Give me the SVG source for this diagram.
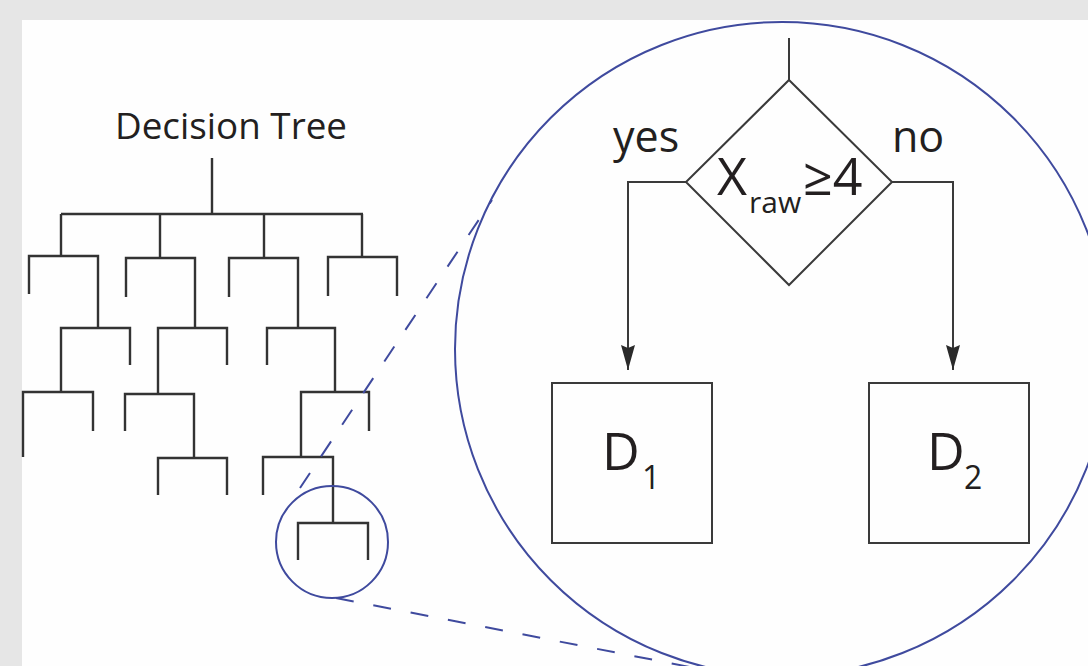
<svg xmlns="http://www.w3.org/2000/svg" width="1088" height="666" viewBox="0 0 1088 666">
<style>
.tree{fill:none;stroke:#333;stroke-width:2.4;stroke-linecap:butt;stroke-linejoin:miter}
.zoom{fill:none;stroke:#3f4a9e;stroke-width:2}
.dash{fill:none;stroke:#3f4a9e;stroke-width:2;stroke-dasharray:18 20}
.shape{fill:none;stroke:#3a3a3a;stroke-width:2}
.conn{fill:none;stroke:#3a3a3a;stroke-width:2}
.lbl{font-family:"Open Sans","Liberation Sans",sans-serif;fill:#231f20}
</style>
<defs>
<marker id="arrow" markerUnits="userSpaceOnUse" markerWidth="26" markerHeight="14" viewBox="0 0 26 14" refX="25" refY="7" orient="auto">
<path d="M0,0 L3,7 L0,14 L25,7 Z" fill="#2a2a2a"/>
</marker>
</defs>
<rect x="0" y="0" width="1088" height="666" fill="#e6e6e6"/>
<rect x="22" y="20" width="1066" height="646" fill="#fefefe"/>

<g id="decision-tree">
<text class="lbl" x="115" y="139" font-size="37" textLength="232" lengthAdjust="spacingAndGlyphs">Decision Tree</text>
<path class="tree" d="M212,158 V214 M61,214 H363 M61,214 V256 M160,214 V258 M264,214 V258 M362,214 V257"/>
<path class="tree" d="M29,294 V256 H98 V328 M126,297 V258 H195 V328 M229,297 V258 H298 V328 M328,296 V257 H397 V296"/>
<path class="tree" d="M61,392 V328 H130 V365 M158,394 V328 H227 V365 M267,365 V328 H335 V392"/>
<path class="tree" d="M23,457 V392 H93 V431 M125,431 V394 H194 V457 M301,457 V392 H369 V431"/>
<path class="tree" d="M158,495 V458 H227 V495 M263,495 V457 H333 V523"/>
<path class="tree" d="M298,560 V523 H368 V560"/>
</g>

<g id="zoom-small">
<circle class="zoom" cx="332" cy="542" r="56"/>
</g>
<g id="zoom-large">
<circle class="zoom" cx="782" cy="349" r="327"/>
</g>
<g id="zoom-lines">
<path class="dash" d="M300,488 L492,200"/>
<path class="dash" d="M336,598 L690,667"/>
</g>

<g id="decision">
<polygon class="shape" points="789,80 892,182 789,285 686,182"/>
<text class="lbl" font-size="52"><tspan x="717" y="195">X</tspan><tspan x="749" y="213" font-size="30">raw</tspan><tspan x="803" y="195">≥4</tspan></text>
</g>

<g id="leaf-d1">
<rect class="shape" x="552" y="383" width="160" height="160"/>
<text class="lbl" font-size="52"><tspan x="602" y="470">D</tspan><tspan x="642" y="489" font-size="32">1</tspan></text>
</g>

<g id="leaf-d2">
<rect class="shape" x="869" y="383" width="160" height="160"/>
<text class="lbl" font-size="52"><tspan x="927" y="470">D</tspan><tspan x="964" y="489" font-size="32">2</tspan></text>
</g>

<g id="connectors">
<path class="conn" d="M789,38 V80"/>
<path class="conn" d="M686,182 H628 V370" marker-end="url(#arrow)"/>
<path class="conn" d="M892,182 H953 V370" marker-end="url(#arrow)"/>
<text class="lbl" x="613" y="152" font-size="43">yes</text>
<text class="lbl" x="892" y="152" font-size="43">no</text>
</g>
</svg>
